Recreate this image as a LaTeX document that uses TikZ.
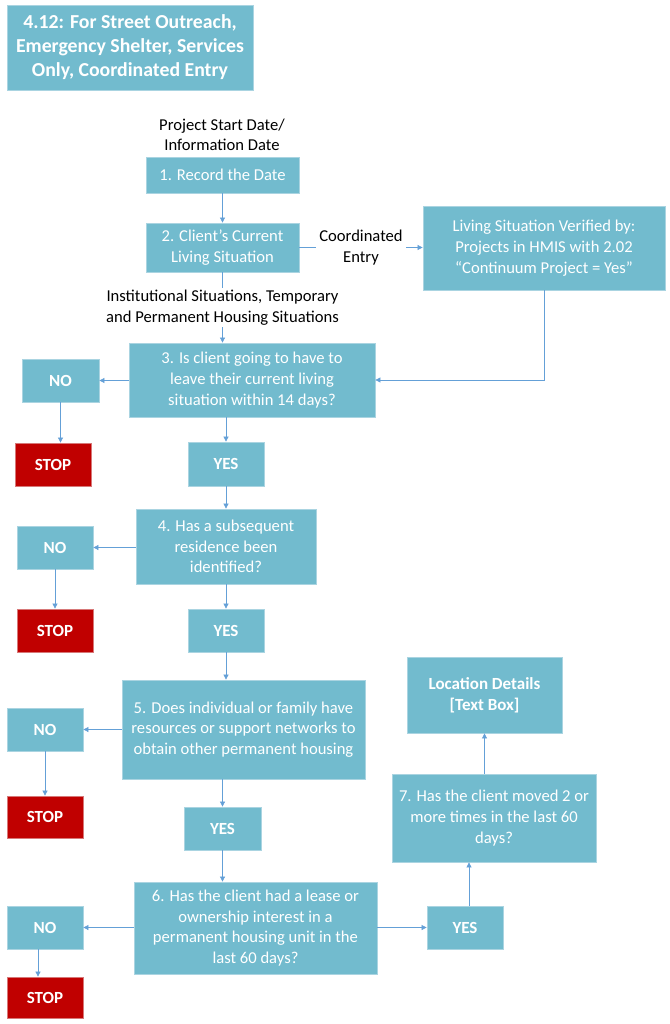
\documentclass[tikz,border=0pt]{standalone}
\usepackage{fontspec}
\setmainfont{Carlito}
\usetikzlibrary{arrows.meta}
\definecolor{boxfill}{RGB}{114,187,206}
\definecolor{boxedge}{RGB}{170,212,225}
\definecolor{stopfill}{RGB}{192,0,0}
\definecolor{stopedge}{RGB}{215,120,120}
\definecolor{arrcol}{RGB}{100,160,215}
\tikzset{
  box/.style={draw=boxedge, line width=0.8pt, fill=boxfill, text=white, align=center,
    inner sep=0pt, font=\fontsize{16.6}{20.7}\selectfont},
  boldbox/.style={box, font=\fontsize{17}{20.7}\selectfont\bfseries},
  stopbox/.style={boldbox, fill=stopfill, draw=stopedge},
  lbl/.style={text=black, align=center, inner sep=1pt, font=\fontsize{16.6}{20.5}\selectfont},
  arr/.style={draw=arrcol, line width=0.7pt, -{Triangle[length=5pt,width=5pt]}},
  ln/.style={draw=arrcol, line width=0.7pt},
}
\newcommand{\bx}[6]{\node[#1, minimum width=#4-#2, minimum height=#5-#3] (#6) at ({(#2+#4)/2},{(#3+#5)/2})}
\begin{document}
\begin{tikzpicture}[x=1pt,y=-1pt]
\useasboundingbox (0,0) rectangle (669,1024);
% title
\bx{box}{7}{5}{253}{90}{title} [font=\fontsize{19.8}{24}\selectfont\bfseries] {4.12: For Street Outreach,\\Emergency Shelter, Services\\Only, Coordinated Entry};
% start label
\node[lbl] (start) at (222,135) {Project Start Date/\\Information Date};
% step 1, 2
\bx{box}{146}{157}{299}{193}{b1} {1. Record the Date};
\bx{box}{146}{223}{299}{272}{b2} {2. Client’s Current\\Living Situation};
\bx{box}{423}{206}{665}{290}{lsv} {Living Situation Verified by:\\Projects in HMIS with 2.02\\“Continuum Project = Yes”};
% step 3
\bx{box}{129}{343}{375}{417}{b3} {3. Is client going to have to\\leave their current living\\situation within 14 days?};
\bx{boldbox}{22}{359}{99}{402}{no1} {NO};
\bx{stopbox}{15}{443}{91}{486}{stop1} {STOP};
\bx{boldbox}{188}{442}{264}{486}{yes1} {YES};
% step 4
\bx{box}{136}{509}{316}{584}{b4} {4. Has a subsequent\\residence been\\identified?};
\bx{boldbox}{17}{526}{93}{569}{no2} {NO};
\bx{stopbox}{17}{609}{93}{652}{stop2} {STOP};
\bx{boldbox}{188}{609}{264}{652}{yes2} {YES};
% step 5
\bx{box}{122}{680}{365}{779}{b5} {5. Does individual or family have\\resources or support networks to\\obtain other permanent housing};
\bx{boldbox}{7}{708}{83}{751}{no3} {NO};
\bx{stopbox}{7}{796}{83}{838}{stop3} {STOP};
\bx{boldbox}{184}{807}{261}{850}{yes3} {YES};
% step 6
\bx{box}{134}{882}{377}{974}{b6} {6. Has the client had a lease or\\ownership interest in a\\permanent housing unit in the\\last 60 days?};
\bx{boldbox}{7}{906}{83}{949}{no4} {NO};
\bx{stopbox}{7}{977}{83}{1018}{stop4} {STOP};
\bx{boldbox}{427}{906}{503}{949}{yes4} {YES};
% step 7
\bx{box}{392}{774}{596}{862}{b7} {7. Has the client moved 2 or\\more times in the last 60\\days?};
\bx{boldbox}{407}{657}{562}{733}{loc} {Location Details\\{[}Text Box{]}};
% connectors
\draw[arr] (b1.south) -- (b2.north);
\draw[arr] (b2.east) -- node[lbl, fill=white, inner sep=3pt] (ce) {Coordinated\\Entry} (b2.east -| lsv.west);
\draw[arr] (b2.south) -- node[lbl, fill=white, inner sep=2pt] (inst) {Institutional Situations, Temporary\\and Permanent Housing Situations} (b2.south |- b3.north);
\draw[arr] (lsv.south) -- (lsv.south |- b3.east) -- (b3.east);
\draw[arr] (b3.west |- no1.east) -- (no1.east);
\draw[arr] (no1.south) -- (no1.south |- stop1.north);
\draw[arr] (yes1.north |- b3.south) -- (yes1.north);
\draw[arr] (yes1.south) -- (yes1.south |- b4.north);
\draw[arr] (b4.west |- no2.east) -- (no2.east);
\draw[arr] (no2.south) -- (stop2.north);
\draw[arr] (yes2.north |- b4.south) -- (yes2.north);
\draw[arr] (yes2.south) -- (yes2.south |- b5.north);
\draw[arr] (b5.west |- no3.east) -- (no3.east);
\draw[arr] (no3.south) -- (stop3.north);
\draw[arr] (yes3.north |- b5.south) -- (yes3.north);
\draw[arr] (yes3.south) -- (yes3.south |- b6.north);
\draw[arr] (b6.west |- no4.east) -- (no4.east);
\draw[arr] ([xshift=-7pt]no4.south) -- ([xshift=-7pt]stop4.north);
\draw[arr] (b6.east |- yes4.west) -- (yes4.west);
\draw[arr] ([xshift=4pt]yes4.north) -- ([xshift=4pt]yes4.north |- b7.south);
\draw[arr] (loc.south |- b7.north) -- (loc.south);
\end{tikzpicture}
\end{document}
